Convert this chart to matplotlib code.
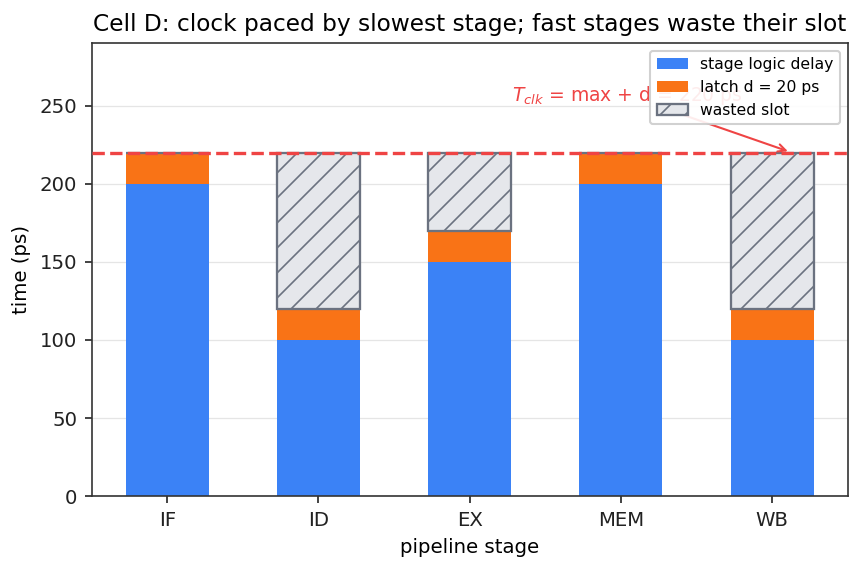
import numpy as np
import matplotlib
matplotlib.use("Agg")
import matplotlib.pyplot as plt

# Pipeline stage data (ps)
stages = ["IF", "ID", "EX", "MEM", "WB"]
logic_delay = [200, 100, 150, 200, 100]
latch_d = 20

t_clk = max(logic_delay) + latch_d
latch = [latch_d] * len(stages)
wasted = [t_clk - (v + latch_d) for v in logic_delay]

plt.rcParams["font.size"] = 9.5
plt.rcParams["hatch.linewidth"] = 0.8

fig, ax = plt.subplots(figsize=(865 / 150, 569 / 150), dpi=150)
fig.subplots_adjust(left=0.106, right=0.980, top=0.924, bottom=0.128)

x = np.arange(len(stages))
w = 0.55
ax.bar(x, logic_delay, w, color="#3b82f6", label="stage logic delay", zorder=2)
ax.bar(x, latch, w, bottom=logic_delay, color="#f97316", label="latch d = 20 ps", zorder=2)
base = [a + b for a, b in zip(logic_delay, latch)]
ax.bar(x, wasted, w, bottom=base, color="#e5e7eb", edgecolor="#6b7280",
       hatch="//", linewidth=1.1, label="wasted slot", zorder=2)

ax.axhline(t_clk, color="#ef4444", linestyle="--", linewidth=1.6, zorder=3)
ax.annotate(r"$T_{clk}$ = max + d = 220 ps", xy=(4.13, t_clk), xytext=(2.28, 253),
            color="#ef4444", fontsize=9, ha="left",
            arrowprops=dict(arrowstyle="->", color="#ef4444", lw=1))

ax.set_xticks(x)
ax.set_xticklabels(stages)
ax.set_xlim(-0.5, 4.5)
ax.set_ylim(0, 290)
ax.set_xlabel("pipeline stage")
ax.set_ylabel("time (ps)")
ax.set_title("Cell D: clock paced by slowest stage; fast stages waste their slot", fontsize=11.2)
ax.yaxis.grid(True, color="#e5e5e5", linewidth=0.6, zorder=0)
ax.set_axisbelow(True)
for s in ax.spines.values():
    s.set_color("#333333")
ax.tick_params(colors="#222222")

leg = ax.legend(loc="upper right", fontsize=7.5, framealpha=0.9)
leg.set_zorder(5)

fig.savefig("out.png", dpi=150)
